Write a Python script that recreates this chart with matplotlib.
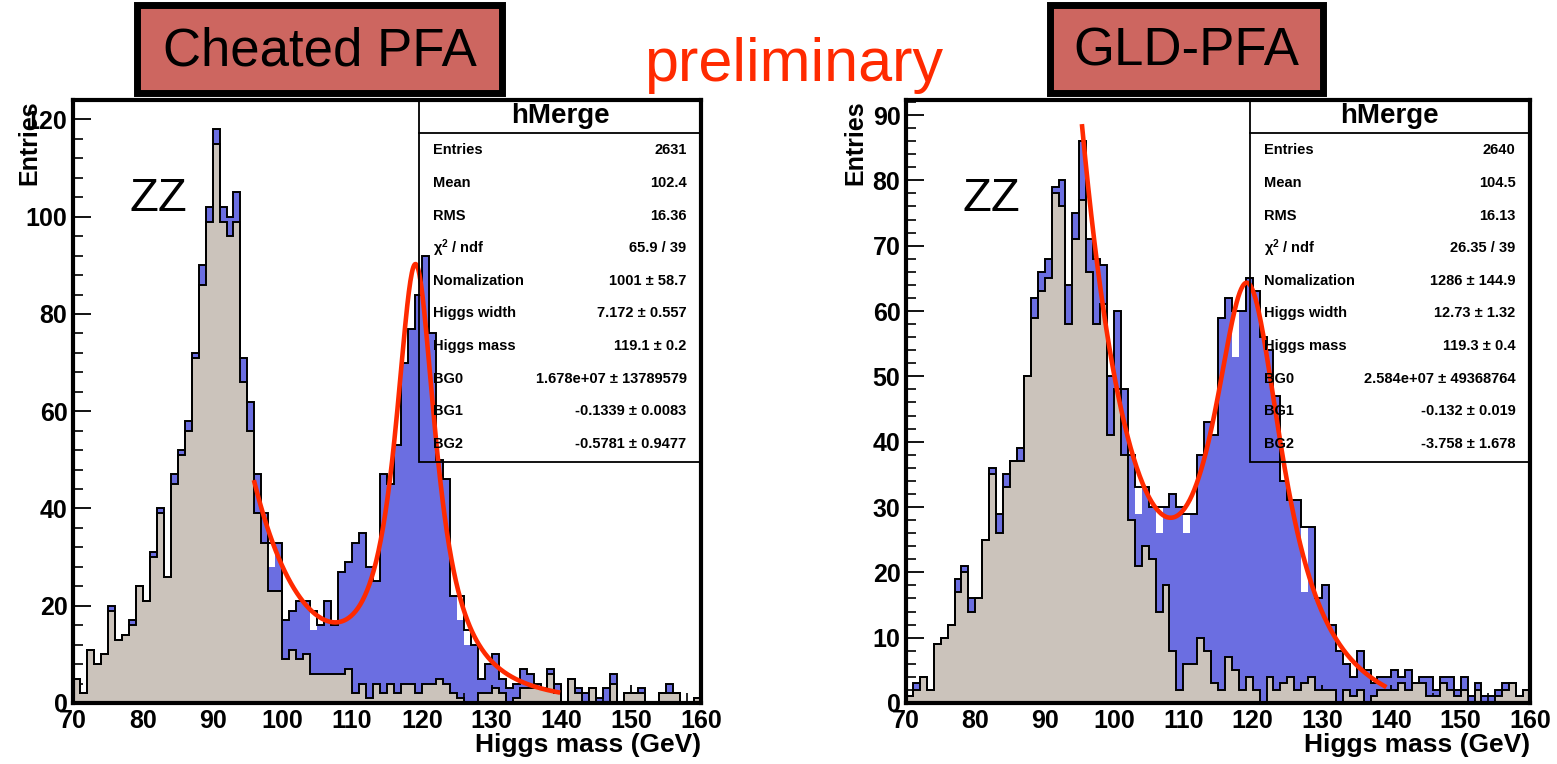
import numpy as np
import matplotlib
matplotlib.use('Agg')
import matplotlib.pyplot as plt
from matplotlib.patches import Rectangle
from matplotlib.ticker import MultipleLocator

plt.rcParams['font.family'] = ['Liberation Sans', 'DejaVu Sans']
plt.rcParams['font.weight'] = 'bold'
plt.rcParams['mathtext.default'] = 'regular'

# binning: 1 GeV bins from 70 to 160
edges = np.arange(70, 161)

# ---- Cheated PFA (left) ----
left_total = [5, 2, 11, 8, 10, 20, 13, 14, 17, 24,
              21, 31, 40, 26, 47, 52, 58, 72, 90, 102,
              118, 102, 100, 105, 71, 62, 47, 39, 33, 33,
              17, 19, 21, 21, 19, 16, 21, 16, 27, 29,
              33, 35, 28, 25, 47, 45, 53, 70, 77, 84,
              92, 76, 50, 46, 22, 22, 15, 12, 5, 8,
              10, 5, 3, 4, 7, 6, 4, 3, 7, 4,
              0, 5, 3, 2, 3, 1, 3, 6, 0, 2,
              2, 3, 0, 0, 2, 4, 2, 0, 0, 1]
left_blue = [5, 2, 11, 8, 10, 20, 13, 14, 17, 24,
             21, 31, 40, 26, 47, 52, 58, 72, 90, 102,
             118, 102, 100, 105, 71, 62, 47, 39, 28, 33,
             17, 19, 21, 21, 15, 16, 21, 16, 27, 29,
             33, 35, 28, 25, 47, 45, 53, 70, 77, 84,
             92, 76, 50, 46, 22, 17, 12, 12, 5, 8,
             10, 5, 3, 4, 7, 6, 4, 3, 7, 4,
             0, 5, 3, 2, 3, 1, 3, 6, 0, 2,
             2, 3, 0, 0, 2, 4, 2, 0, 0, 1]
left_zz = [5, 2, 11, 8, 10, 19, 13, 14, 16, 24,
           21, 30, 39, 26, 45, 51, 56, 71, 86, 99,
           115, 99, 96, 99, 66, 56, 39, 33, 23, 23,
           9, 11, 9, 10, 6, 6, 6, 6, 6, 7,
           2, 4, 1, 4, 2, 4, 2, 4, 4, 2,
           4, 4, 5, 4, 2, 1, 0, 0, 2, 2,
           3, 2, 0, 1, 3, 3, 3, 3, 6, 2,
           0, 5, 2, 0, 3, 0, 0, 4, 0, 2,
           2, 2, 0, 0, 2, 2, 2, 0, 0, 1]

# ---- GLD-PFA (right) ----
right_total = [1, 3, 4, 2, 9, 10, 12, 19, 21, 16,
               16, 25, 36, 29, 35, 37, 39, 50, 62, 66,
               68, 79, 80, 64, 75, 86, 71, 68, 67, 50,
               60, 48, 38, 33, 33, 30, 30, 30, 32, 30,
               29, 29, 38, 43, 41, 59, 62, 60, 60, 65,
               63, 56, 54, 47, 34, 31, 31, 27, 27, 16,
               18, 12, 8, 6, 4, 8, 5, 3, 4, 4,
               5, 4, 5, 3, 4, 4, 2, 4, 4, 2,
               4, 1, 3, 1, 1, 2, 3, 3, 1, 2]
right_blue = [1, 3, 4, 2, 9, 10, 12, 19, 21, 16,
              16, 25, 36, 29, 35, 37, 39, 50, 62, 66,
              68, 79, 80, 64, 75, 86, 71, 68, 67, 50,
              60, 48, 38, 29, 33, 30, 26, 30, 32, 30,
              26, 29, 38, 43, 41, 59, 62, 53, 60, 65,
              63, 56, 54, 47, 34, 31, 31, 17, 27, 16,
              18, 12, 8, 6, 4, 8, 5, 3, 4, 4,
              5, 4, 5, 3, 4, 4, 2, 4, 4, 2,
              4, 1, 3, 1, 1, 2, 3, 3, 1, 2]
right_zz = [1, 2, 4, 2, 9, 10, 12, 17, 20, 14,
            16, 25, 35, 26, 33, 37, 37, 50, 59, 63,
            65, 78, 76, 58, 71, 77, 66, 58, 61, 41,
            48, 38, 28, 21, 24, 22, 14, 18, 8, 2,
            6, 6, 10, 8, 3, 2, 7, 5, 2, 4,
            2, 0, 4, 2, 3, 4, 2, 3, 4, 2,
            2, 2, 0, 2, 1, 2, 0, 1, 2, 2,
            2, 3, 2, 3, 3, 1, 1, 3, 2, 1,
            2, 0, 2, 0, 0, 1, 2, 3, 1, 2]

# stats boxes
stat_names = ['Entries', 'Mean', 'RMS', r'$\chi^2$ / ndf', 'Nomalization',
              'Higgs width', 'Higgs mass', 'BG0', 'BG1', 'BG2']
left_stats = ['2631', '102.4', '16.36', '65.9 / 39', '1001 \u00b1 58.7',
              '7.172 \u00b1 0.557', '119.1 \u00b1 0.2', '1.678e+07 \u00b1 13789579',
              '-0.1339 \u00b1 0.0083', '-0.5781 \u00b1 0.9477']
right_stats = ['2640', '104.5', '16.13', '26.35 / 39', '1286 \u00b1 144.9',
               '12.73 \u00b1 1.32', '119.3 \u00b1 0.4', '2.584e+07 \u00b1 49368764',
               '-0.132 \u00b1 0.019', '-3.758 \u00b1 1.678']

# fit parameters (norm, width, mass, bg0, bg1, bg2) and fit ranges
left_fit = [1001, 7.172, 119.1, 1.678e7, -0.1339, -0.5781]
right_fit = [1286, 12.73, 119.3, 2.584e7, -0.132, -3.758]
left_range = [96, 139.5]
right_range = [95.4, 139]

BLUE = '#6b6ee1'
GREY = '#cbc3bb'
RED = '#ff2a00'
BOXRED = '#cd6660'

W, H = 1557, 764
fig = plt.figure(figsize=(W / 100, H / 100), dpi=100)


def px_axes(x0, y0, x1, y1):
    return fig.add_axes([x0 / W, 1 - y1 / H, (x1 - x0) / W, (y1 - y0) / H])


def fit_func(x, norm, width, mass, bg0, bg1, bg2):
    bw = norm / (2 * np.pi) * width / ((x - mass) ** 2 + width ** 2 / 4)
    return bw + bg0 * np.exp(bg1 * x) + bg2


def draw_panel(ax, total, blue, zz, ymax, ymajor, yminor, stats, fit, frange, label_x):
    ax.stairs(blue, edges, fill=True, facecolor=BLUE, edgecolor='none', zorder=1)
    ax.stairs(zz, edges, fill=True, facecolor=GREY, edgecolor='black', lw=1.4, zorder=2)
    ax.stairs(total, edges, fill=False, edgecolor='black', lw=1.4, zorder=3)

    xf = np.linspace(frange[0], frange[1], 400)
    ax.plot(xf, fit_func(xf, *fit), color=RED, lw=3.3, zorder=4)

    ax.set_xlim(70, 160)
    ax.set_ylim(0, ymax)
    ax.xaxis.set_major_locator(MultipleLocator(10))
    ax.xaxis.set_minor_locator(MultipleLocator(2))
    ax.yaxis.set_major_locator(MultipleLocator(ymajor))
    ax.yaxis.set_minor_locator(MultipleLocator(yminor))
    ax.tick_params(which='major', direction='in', length=13, width=1.3, labelsize=18, pad=4)
    ax.tick_params(which='minor', direction='in', length=7, width=1.2)
    for sp in ax.spines.values():
        sp.set_linewidth(3)
        sp.set_zorder(6)

    ax.text(label_x, 1.0, 'Entries', rotation=90, ha='center', va='top',
            fontsize=18, transform=ax.transAxes)
    ax.text(1.0, -0.07, 'Higgs mass (GeV)', ha='right', va='center',
            fontsize=19, transform=ax.transAxes)
    ax.text(0.09, 0.835, 'ZZ', fontsize=34, fontweight='normal', ha='left',
            va='center', transform=ax.transAxes)

    # stats box
    bx0, by0 = 0.551, 0.399
    ax.add_patch(Rectangle((bx0, by0), 1 - bx0, 1 - by0, fill=False, lw=1.3,
                           edgecolor='black', transform=ax.transAxes, zorder=5,
                           clip_on=False))
    ax.plot([bx0, 1], [0.945, 0.945], color='black', lw=1.3,
            transform=ax.transAxes, zorder=5, clip_on=False)
    ax.text((bx0 + 1) / 2, 0.973, 'hMerge', ha='center', va='center', fontsize=20,
            transform=ax.transAxes, zorder=7)
    rows_y = [150, 183, 216, 248, 281, 313, 346, 379, 411, 444]
    for name, val, ry in zip(stat_names, stats, rows_y):
        yy = (703 - ry) / 603
        ax.text(bx0 + 0.022, yy, name, ha='left', va='center', fontsize=10.5,
                transform=ax.transAxes, zorder=7)
        ax.text(0.977, yy, val, ha='right', va='center', fontsize=10.5,
                transform=ax.transAxes, zorder=7)


axL = px_axes(73, 100, 701, 703)
draw_panel(axL, left_total, left_blue, left_zz, 124, 20, 4, left_stats,
           left_fit, left_range, -0.07)

axR = px_axes(906, 100, 1530, 703)
draw_panel(axR, right_total, right_blue, right_zz, 92.3, 10, 2, right_stats,
           right_fit, right_range, -0.081)

# title boxes
for (x0, x1, title) in [(137, 502, 'Cheated PFA'), (1050, 1323, 'GLD-PFA')]:
    fig.patches.append(Rectangle((x0 / W, 1 - 93 / H), (x1 - x0) / W, 88 / H,
                                 facecolor=BOXRED, edgecolor='black', lw=5,
                                 transform=fig.transFigure, figure=fig))
    fig.text((x0 + x1) / 2 / W, 1 - 51 / H, title, ha='center', va='center',
             fontsize=38, fontweight='normal')

fig.text(794 / W, 1 - 66 / H, 'preliminary', ha='center', va='center',
         fontsize=44, fontweight='normal', color=RED)

fig.savefig('out.png', dpi=100)
